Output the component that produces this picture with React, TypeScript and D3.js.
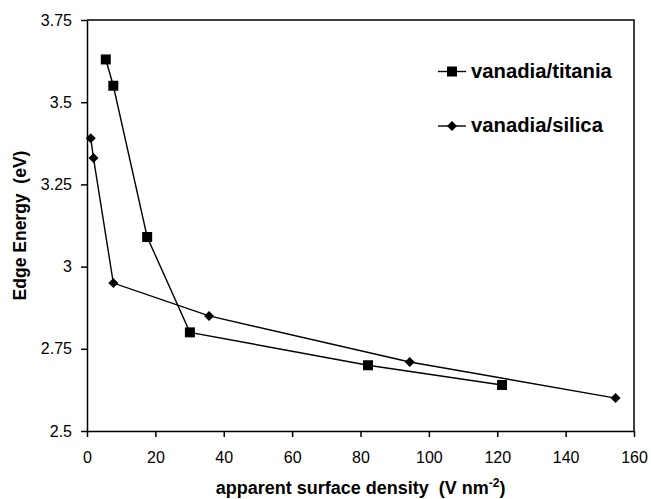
import React, { useEffect, useRef } from "react";
import * as d3 from "d3";

const titaniaX = [5.5, 7.7, 17.6, 30.1, 82.2, 121.4];
const titaniaY = [3.63, 3.55, 3.09, 2.8, 2.7, 2.64];
const silicaX = [1.1, 1.9, 7.7, 35.7, 94.4, 154.6];
const silicaY = [3.39, 3.33, 2.95, 2.85, 2.71, 2.6];
const xTicks = [0, 20, 40, 60, 80, 100, 120, 140, 160];
const yTicks = [2.5, 2.75, 3, 3.25, 3.5, 3.75];
const seriesNames = ["vanadia/titania", "vanadia/silica"];

const W = 651;
const H = 499;
const FONT = "'Liberation Sans', Arial, sans-serif";

export default function App() {
    const svgRef = useRef<SVGSVGElement>(null);

    useEffect(() => {
        const svg = d3.select(svgRef.current);
        svg.selectAll("*").remove();

        const margin = { top: 20, right: 17, bottom: 68, left: 87 };
        const x = d3.scaleLinear().domain([0, 160]).range([margin.left, W - margin.right]);
        const y = d3.scaleLinear().domain([2.5, 3.75]).range([H - margin.bottom, margin.top]);

        // frame: top and right edges
        svg.append("path")
            .attr("d", `M${x(0)},${y(3.75)}H${x(160)}V${y(2.5)}`)
            .attr("fill", "none")
            .attr("stroke", "#000")
            .attr("stroke-width", 1.5);

        const xAxis = svg.append("g")
            .attr("transform", `translate(0,${y(2.5)})`)
            .call(d3.axisBottom(x).tickValues(xTicks).tickSize(6).tickSizeOuter(0).tickFormat(d3.format("d")));
        const yAxis = svg.append("g")
            .attr("transform", `translate(${x(0)},0)`)
            .call(d3.axisLeft(y).tickValues(yTicks).tickSize(6).tickSizeOuter(0).tickFormat((d) => String(d)));

        [xAxis, yAxis].forEach((g) => {
            g.selectAll("path, line").attr("stroke", "#000").attr("stroke-width", 1.5);
            g.selectAll("text")
                .attr("fill", "#000")
                .style("font-family", FONT)
                .style("font-size", "16px");
        });
        xAxis.selectAll("text").attr("dy", 0).attr("y", 32);
        yAxis.selectAll("text").attr("x", -15);

        const line = d3.line<[number, number]>()
            .x((d) => x(d[0]))
            .y((d) => y(d[1]));

        const titania = titaniaX.map((v, i) => [v, titaniaY[i]] as [number, number]);
        const silica = silicaX.map((v, i) => [v, silicaY[i]] as [number, number]);

        [titania, silica].forEach((data) => {
            svg.append("path")
                .datum(data)
                .attr("d", line)
                .attr("fill", "none")
                .attr("stroke", "#000")
                .attr("stroke-width", 1.4);
        });

        const square = d3.symbol().type(d3.symbolSquare).size(100);
        const diamond = (s: number) =>
            `M0,${-s}L${s},0L0,${s}L${-s},0Z`;

        svg.append("g")
            .selectAll("path")
            .data(titania)
            .enter()
            .append("path")
            .attr("d", square)
            .attr("transform", (d) => `translate(${x(d[0])},${y(d[1])})`)
            .attr("fill", "#000");

        svg.append("g")
            .selectAll("path")
            .data(silica)
            .enter()
            .append("path")
            .attr("d", diamond(5))
            .attr("transform", (d) => `translate(${x(d[0])},${y(d[1])})`)
            .attr("fill", "#000");

        // legend
        const legend = svg.append("g").attr("transform", "translate(438,71.5)");
        seriesNames.forEach((name, i) => {
            const row = legend.append("g").attr("transform", `translate(0,${i * 54.5})`);
            row.append("line")
                .attr("x1", 0).attr("x2", 28)
                .attr("stroke", "#000").attr("stroke-width", 1.4);
            row.append("path")
                .attr("d", i === 0 ? square : diamond(5))
                .attr("transform", "translate(14,0)")
                .attr("fill", "#000");
            row.append("text")
                .attr("x", 33)
                .attr("dy", "0.3em")
                .text(name)
                .style("font-family", FONT)
                .style("font-size", "20.3px")
                .style("font-weight", "bold");
        });

        // axis titles
        const xTitle = svg.append("text")
            .attr("x", (x(0) + x(160)) / 2)
            .attr("y", 494)
            .attr("text-anchor", "middle")
            .style("font-family", FONT)
            .style("font-size", "18px")
            .style("font-weight", "bold")
            .attr("xml:space", "preserve");
        xTitle.append("tspan").text("apparent surface density  (V nm");
        xTitle.append("tspan").attr("dy", -7).style("font-size", "12px").text("-2");
        xTitle.append("tspan").attr("dy", 7).text(")");

        svg.append("text")
            .attr("transform", `translate(26,${(y(2.5) + y(3.75)) / 2}) rotate(-90)`)
            .attr("text-anchor", "middle")
            .attr("xml:space", "preserve")
            .style("font-family", FONT)
            .style("font-size", "17.5px")
            .style("font-weight", "bold")
            .text("Edge Energy  (eV)");
    }, []);

    return (
        <div style={{ position: "absolute", left: 0, top: 0, width: W, height: H, background: "#fff" }}>
            <svg ref={svgRef} width={W} height={H}></svg>
        </div>
    );
}
